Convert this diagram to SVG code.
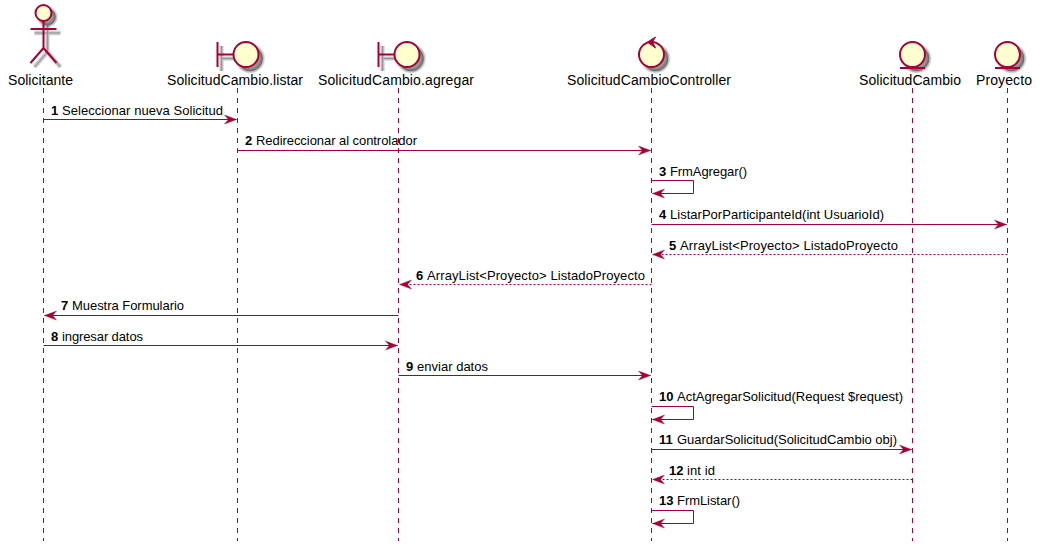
<svg xmlns="http://www.w3.org/2000/svg" width="1043" height="552" viewBox="0 0 1043 552">
<style>
text{font-family:"Liberation Sans",Arial,sans-serif;fill:#000}
.n{font-size:14px}
.m{font-size:13px}
.b{font-weight:bold}
.s{fill:#FEFECE;stroke:#A80036;stroke-width:2}
.o{fill:none;stroke:#A80036;stroke-width:2}
.s1 circle,.s2 circle,.s3 circle{fill:#333}
.s1 *{stroke:#333;stroke-width:5;stroke-opacity:.14;fill-opacity:.14}
.s2 *{stroke:#333;stroke-width:3;stroke-opacity:.2;fill-opacity:.2}
.s3 *{stroke:#333;stroke-width:1;stroke-opacity:.28;fill-opacity:.28}
.s1 path,.s2 path,.s3 path{fill:none}
.life{stroke:#A80036;stroke-width:1;stroke-dasharray:5,5;fill:none}
.c{stroke:#A80036;stroke-width:1;fill:none}
.d{stroke-dasharray:2,2}
.t{marker-end:url(#ah)}
</style>
<defs>
<marker id="ah" markerUnits="userSpaceOnUse" markerWidth="14" markerHeight="12" refX="13" refY="6" orient="auto"><path d="M1,1.500 L13,6 L1,10.500 L5,6 Z" fill="#A80036" stroke="#A80036" stroke-width=".4"/></marker>
</defs>
<g id="lifelines">
<line class="life" x1="43.5" y1="88" x2="43.5" y2="541"/>
<line class="life" x1="237.5" y1="88" x2="237.5" y2="541"/>
<line class="life" x1="398.5" y1="88" x2="398.5" y2="541"/>
<line class="life" x1="651.5" y1="88" x2="651.5" y2="541"/>
<line class="life" x1="912.5" y1="88" x2="912.5" y2="541"/>
<line class="life" x1="1007.5" y1="88" x2="1007.5" y2="541"/>
</g>
<g id="n-solicitante">
<g class="s1" transform="translate(4 4)"><circle cx="43.5" cy="13" r="8"/><path d="M43.5 21V48M30.5 29H56.5M43.5 48L30.5 63M43.5 48L56.5 63"/></g>
<g class="s2" transform="translate(4 4)"><circle cx="43.5" cy="13" r="8"/><path d="M43.5 21V48M30.5 29H56.5M43.5 48L30.5 63M43.5 48L56.5 63"/></g>
<g class="s3" transform="translate(4 4)"><circle cx="43.5" cy="13" r="8"/><path d="M43.5 21V48M30.5 29H56.5M43.5 48L30.5 63M43.5 48L56.5 63"/></g>
<circle class="s" cx="43.5" cy="13" r="8"/><path class="o" d="M43.5 21V48M30.5 29H56.5M43.5 48L30.5 63M43.5 48L56.5 63"/>
<text class="n" x="8" y="85" textLength="65">Solicitante</text>
</g>
<g id="n-listar">
<g class="s1" transform="translate(221.500 4)"><path d="M0 42V67M0 54.500H16"/><circle cx="28.500" cy="54.500" r="12.500"/></g>
<g class="s2" transform="translate(221.500 4)"><path d="M0 42V67M0 54.500H16"/><circle cx="28.500" cy="54.500" r="12.500"/></g>
<g class="s3" transform="translate(221.500 4)"><path d="M0 42V67M0 54.500H16"/><circle cx="28.500" cy="54.500" r="12.500"/></g>
<path class="o" d="M217.5 42V67M217.5 54.500H234"/><circle class="s" cx="246" cy="54.500" r="12.500"/>
<text class="n" x="167" y="85" textLength="136">SolicitudCambio.listar</text>
</g>
<g id="n-agregar">
<g class="s1" transform="translate(382.500 4)"><path d="M0 42V67M0 54.500H16"/><circle cx="28.500" cy="54.500" r="12.500"/></g>
<g class="s2" transform="translate(382.500 4)"><path d="M0 42V67M0 54.500H16"/><circle cx="28.500" cy="54.500" r="12.500"/></g>
<g class="s3" transform="translate(382.500 4)"><path d="M0 42V67M0 54.500H16"/><circle cx="28.500" cy="54.500" r="12.500"/></g>
<path class="o" d="M378.500 42V67M378.500 54.500H395"/><circle class="s" cx="407" cy="54.500" r="12.500"/>
<text class="n" x="318" y="85" textLength="156">SolicitudCambio.agregar</text>
</g>
<g id="n-controller">
<g class="s1" transform="translate(4 4)"><circle cx="651.500" cy="54.500" r="12.500"/></g>
<g class="s2" transform="translate(4 4)"><circle cx="651.500" cy="54.500" r="12.500"/></g>
<g class="s3" transform="translate(4 4)"><circle cx="651.500" cy="54.500" r="12.500"/></g>
<circle class="s" cx="651.500" cy="54.500" r="12.500"/><path d="M647.500 42L655.500 37L652.500 42L655.500 48Z" fill="#A80036" stroke="#A80036"/>
<text class="n" x="567" y="85" textLength="164">SolicitudCambioController</text>
</g>
<g id="n-solicitudcambio">
<g class="s1" transform="translate(4 4)"><circle cx="912.500" cy="54.500" r="12.500"/></g>
<g class="s2" transform="translate(4 4)"><circle cx="912.500" cy="54.500" r="12.500"/></g>
<g class="s3" transform="translate(4 4)"><circle cx="912.500" cy="54.500" r="12.500"/></g>
<circle class="s" cx="912.500" cy="54.500" r="12.500"/><path class="o" d="M900 68H925"/>
<text class="n" x="859" y="85" textLength="102">SolicitudCambio</text>
</g>
<g id="n-proyecto">
<g class="s1" transform="translate(4 4)"><circle cx="1007.500" cy="54.500" r="12.500"/></g>
<g class="s2" transform="translate(4 4)"><circle cx="1007.500" cy="54.500" r="12.500"/></g>
<g class="s3" transform="translate(4 4)"><circle cx="1007.500" cy="54.500" r="12.500"/></g>
<circle class="s" cx="1007.500" cy="54.500" r="12.500"/><path class="o" d="M995 68H1020"/>
<text class="n" x="976" y="85" textLength="56">Proyecto</text>
</g>
<g id="connectors">
<path class="c t" d="M43.500 119.500H236.500"/>
<path class="c t" d="M237.500 150.500H650.500"/>
<path class="c t" d="M651.500 180.500H693.500V193.500H652.500"/>
<path class="c t" d="M651.500 224.500H1006.500"/>
<path class="c d t" d="M1007.500 254.500H652.500"/>
<path class="c d t" d="M651.500 284.500H399.500"/>
<path class="c t" d="M398.500 315.500H44.500"/>
<path class="c t" d="M43.500 345.500H397.500"/>
<path class="c t" d="M398.500 375.500H650.500"/>
<path class="c t" d="M651.500 406.500H693.500V419.500H652.500"/>
<path class="c t" d="M651.500 449.500H911.500"/>
<path class="c d t" d="M912.500 479.500H652.500"/>
<path class="c t" d="M651.500 510.500H693.500V523.500H652.500"/>
</g>
<g id="labels" class="m">
<text class="m b" x="51" y="115">1</text><text class="m" x="62" y="115" textLength="161">Seleccionar nueva Solicitud</text>
<text class="m b" x="245" y="145">2</text><text class="m" x="256" y="145" textLength="161">Redireccionar al controlador</text>
<text class="m b" x="659" y="176">3</text><text class="m" x="670" y="176" textLength="77">FrmAgregar()</text>
<text class="m b" x="659" y="219">4</text><text class="m" x="670" y="219" textLength="214">ListarPorParticipanteId(int UsuarioId)</text>
<text class="m b" x="669" y="250">5</text><text class="m" x="680" y="250" textLength="218">ArrayList&lt;Proyecto&gt; ListadoProyecto</text>
<text class="m b" x="416" y="280">6</text><text class="m" x="427" y="280" textLength="218">ArrayList&lt;Proyecto&gt; ListadoProyecto</text>
<text class="m b" x="61" y="310">7</text><text class="m" x="72" y="310" textLength="112">Muestra Formulario</text>
<text class="m b" x="51" y="341">8</text><text class="m" x="62" y="341" textLength="81">ingresar datos</text>
<text class="m b" x="406" y="371">9</text><text class="m" x="417" y="371" textLength="71">enviar datos</text>
<text class="m b" x="659" y="401">10</text><text class="m" x="677" y="401" textLength="226">ActAgregarSolicitud(Request $request)</text>
<text class="m b" x="659" y="444">11</text><text class="m" x="677" y="444" textLength="220">GuardarSolicitud(SolicitudCambio obj)</text>
<text class="m b" x="669" y="475">12</text><text class="m" x="687" y="475" textLength="28">int id</text>
<text class="m b" x="659" y="505">13</text><text class="m" x="677" y="505" textLength="63">FrmListar()</text>
</g>
</svg>
